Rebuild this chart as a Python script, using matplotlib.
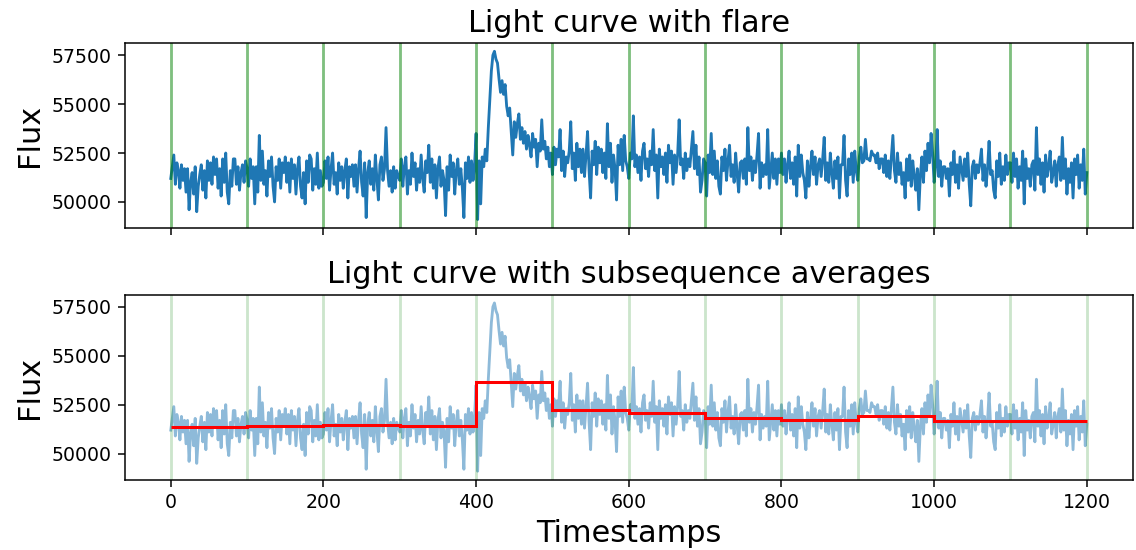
import numpy as np
import matplotlib
matplotlib.use("Agg")
import matplotlib.pyplot as plt

timestamps = np.arange(0, 1201, 2)
flux = [
    # 0-100
    51200, 51800, 52400, 50900, 52000, 51600, 50700, 51900, 51100, 51700,
    50500, 51700, 49600, 51000, 51500, 50400, 51800, 49500, 50800, 51400,
    51900, 50600, 51600, 50200, 52100, 51100, 52000, 50900, 52300, 51400,
    52200, 50700, 51700, 50300, 52200, 51000, 52500, 50500, 49900, 51600,
    50800, 52200, 52200, 50900, 51800, 50600, 51500, 51900, 51000, 52100,
    # 100-200
    51700, 50800, 52200, 51200, 51800, 49900, 51800, 50500, 53400, 51100,
    52600, 50900, 51600, 50300, 52100, 51300, 52300, 50800, 50000, 51800,
    51100, 52200, 50700, 52000, 51500, 52300, 51000, 52000, 50500, 52200,
    51200, 51900, 50400, 51700, 52300, 50800, 50200, 51500, 49900, 52100,
    51000, 52400, 52200, 50600, 51700, 50900, 52500, 50700, 51600, 50800,
    # 200-300
    51000, 52100, 51200, 52300, 50600, 51700, 52500, 50900, 51500, 50400,
    52000, 51100, 51800, 50700, 51600, 52200, 50200, 51800, 51300, 51900,
    50800, 51900, 50500, 51700, 52600, 51000, 50300, 52000, 49200, 51500,
    52100, 50900, 51700, 50600, 52400, 51200, 50100, 51900, 52300, 51100,
    51700, 53800, 51600, 50800, 51600, 50500, 51800, 50700, 51600, 51300,
    # 300-400
    51100, 52200, 50800, 51800, 52300, 50400, 51600, 50900, 52500, 51300,
    52000, 50600, 51700, 51000, 52400, 51200, 50500, 52100, 51500, 52900,
    51000, 52200, 50700, 51900, 50200, 51700, 52300, 50800, 51600, 51100,
    49300, 51800, 50600, 52400, 51300, 52000, 50400, 51600, 52200, 50900,
    51700, 50700, 49200, 52000, 51200, 52300, 51000, 52100, 51100, 51900,
    # 400-500 (flare)
    53500, 49100, 52100, 49900, 52300, 51800, 52700, 52100, 53800, 55300,
    56700, 57500, 57700, 57300, 57100, 56300, 55600, 56200, 55500, 56000,
    54900, 54400, 54800, 53600, 52400, 54100, 53300, 54000, 54500, 53200,
    53800, 53000, 53600, 52700, 53400, 52900, 52300, 53500, 52800, 53200,
    51800, 53000, 52600, 54200, 52700, 53100, 52200, 52800, 51800, 52500,
    # 500-600
    51400, 52800, 51900, 52700, 52300, 53700, 51600, 52600, 51300, 52300,
    52000, 52600, 54100, 51700, 52500, 51100, 53000, 51800, 52700, 51500,
    52700, 51300, 52400, 53600, 51600, 50200, 52600, 51900, 53100, 51400,
    52800, 52000, 52700, 51500, 52500, 51200, 54000, 51800, 53000, 51000,
    52400, 51700, 50100, 52900, 51900, 53200, 51600, 53400, 52100, 51800,
    # 600-700
    51200, 52500, 52200, 54400, 51800, 52400, 51500, 52300, 51100, 52600,
    53000, 51700, 52200, 51300, 52600, 51900, 53700, 51600, 52400, 50200,
    52700, 51800, 52300, 51400, 52500, 51000, 52900, 52000, 52600, 50900,
    52400, 51500, 52400, 54200, 51900, 52200, 51200, 52500, 51600, 52200,
    51800, 52700, 53600, 51700, 52900, 51400, 52300, 50500, 51100, 52200,
    # 700-800
    52000, 50300, 52400, 51500, 53500, 51400, 52600, 51200, 52100, 50800,
    50400, 52300, 51600, 52700, 51100, 52100, 52900, 51300, 51900, 51000,
    52500, 51400, 50500, 52000, 52100, 51200, 52200, 50900, 53800, 51600,
    52300, 51100, 52100, 51500, 52400, 53500, 50700, 52000, 51300, 51900,
    51400, 53700, 50700, 51600, 52500, 51200, 52200, 50900, 52200, 51500,
    # 800-900
    52500, 51400, 52200, 51000, 51900, 52600, 51200, 52000, 50900, 52300,
    50300, 52900, 51300, 52400, 51500, 51100, 50200, 52100, 50800, 51800,
    52600, 51400, 52300, 50900, 51900, 52200, 51300, 52200, 53300, 51100,
    52000, 51000, 52500, 51500, 50700, 52100, 51200, 52300, 50200, 51900,
    51900, 53400, 51100, 50300, 52200, 51400, 52500, 51000, 52600, 51600,
    # 900-1000
    51100, 52300, 52800, 52000, 52100, 53200, 52200, 52200, 52100, 52600,
    52400, 52400, 52000, 52500, 51700, 52200, 52200, 51500, 52400, 51300,
    52100, 51200, 52300, 53400, 51600, 51000, 52500, 51400, 52000, 50900,
    51500, 50200, 52200, 51100, 52400, 50800, 52100, 51300, 50600, 51700,
    49600, 51400, 52300, 51000, 52600, 51600, 53000, 52000, 53500, 52500,
    # 1000-1100
    51000, 51800, 53700, 51300, 52100, 50800, 51800, 51800, 51200, 51700,
    50300, 52000, 51400, 52600, 51000, 51900, 50700, 52300, 51700, 51100,
    52200, 51300, 52500, 50900, 49800, 51800, 52100, 51200, 51900, 51500,
    52000, 52700, 51100, 51900, 50800, 51700, 53100, 51400, 51600, 50600,
    50200, 52100, 51300, 52500, 50900, 51800, 51100, 52400, 51400, 52000,
    # 1100-1200
    52000, 51000, 52500, 51300, 52200, 50700, 51800, 51100, 52600, 49900,
    52200, 51200, 51700, 50800, 51900, 52100, 50600, 53800, 51400, 52200,
    50900, 52000, 50500, 52400, 51300, 51800, 52600, 51000, 51500, 52100,
    50800, 51900, 52300, 51100, 53300, 51200, 52200, 50400, 51700, 51000,
    52000, 50200, 52200, 51400, 52400, 50700, 51900, 51100, 52700, 50400,
    51500,
]

# subsequence boundaries and their averages
block_edges = list(range(0, 1201, 100))
block_means = [51360, 51390, 51440, 51390, 53680, 52250,
               52080, 51820, 51720, 51920, 51650, 51650]

s = 1.36  # the reference was rendered at a larger dpi
plt.rcParams.update({
    "font.size": 10 * s,
    "axes.linewidth": 0.8 * s,
    "xtick.major.size": 3.5 * s,
    "ytick.major.size": 3.5 * s,
    "xtick.major.width": 0.8 * s,
    "ytick.major.width": 0.8 * s,
    "xtick.major.pad": 3.5 * s,
    "ytick.major.pad": 3.5 * s,
    "axes.titlepad": 6 * s,
    "axes.labelpad": 4 * s,
})

fig, (ax1, ax2) = plt.subplots(2, 1, figsize=(11.36, 5.5), dpi=100, sharex=True)
fig.subplots_adjust(left=0.110, right=0.997, top=0.922, bottom=0.128, hspace=0.36)

# top: raw light curve
ax1.plot(timestamps, flux, color="tab:blue", lw=1.5 * s)
for x in block_edges:
    ax1.axvline(x, color="green", alpha=0.5, lw=1.5 * s)
ax1.set_title("Light curve with flare", fontsize=16 * s)
ax1.set_ylabel("Flux", fontsize=16 * s)

# bottom: light curve with subsequence averages
ax2.plot(timestamps, flux, color="tab:blue", alpha=0.5, lw=1.5 * s)
for x in block_edges:
    ax2.axvline(x, color="green", alpha=0.2, lw=1.5 * s)
ax2.stairs(block_means, block_edges, baseline=None, color="red",
           lw=1.6 * s, zorder=3)
ax2.set_title("Light curve with subsequence averages", fontsize=16 * s)
ax2.set_ylabel("Flux", fontsize=16 * s)
ax2.set_xlabel("Timestamps", fontsize=16 * s)

fig.savefig("out.png", dpi=100)
